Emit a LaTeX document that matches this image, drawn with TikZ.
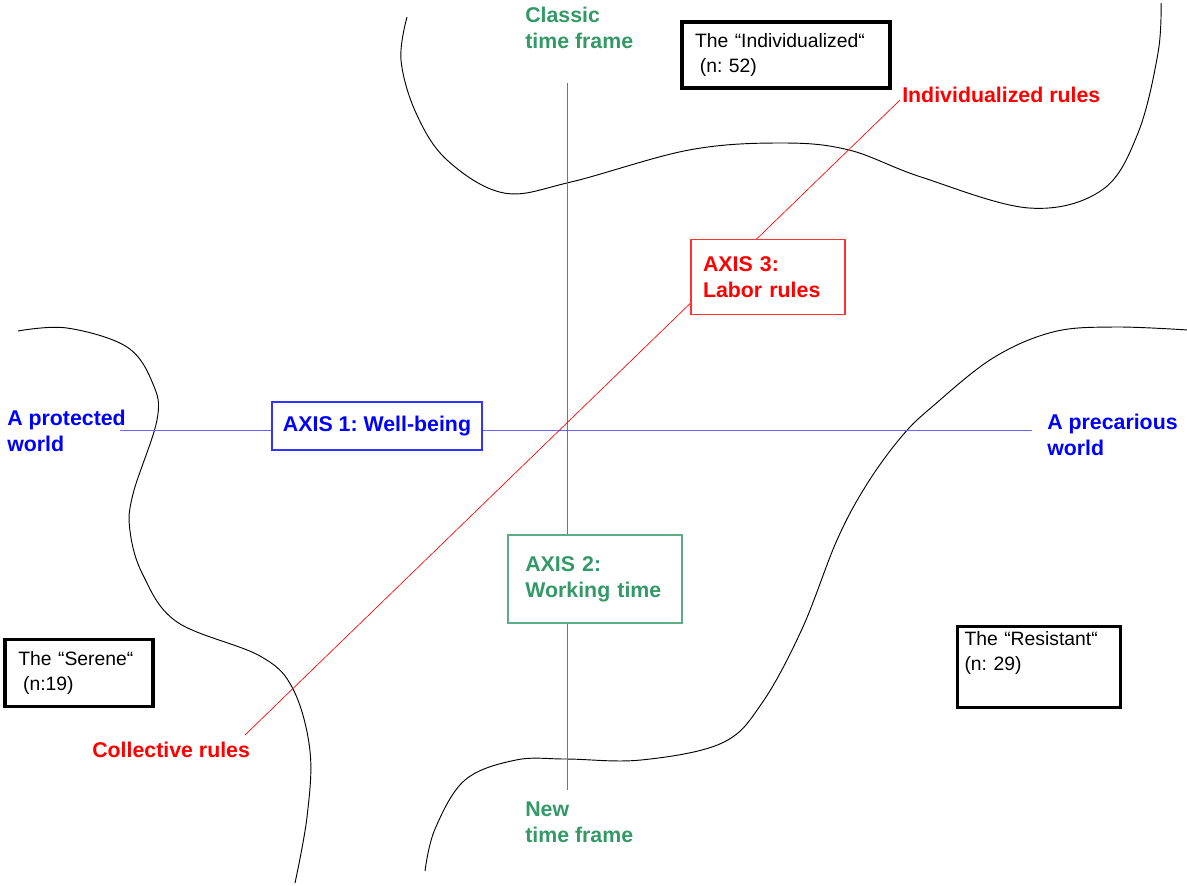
\documentclass[tikz,border=0pt]{standalone}
\usepackage{fontspec}
\setmainfont{Liberation Sans}
\usepackage{tikz}
\frenchspacing

\definecolor{axisblue}{RGB}{0,0,255}
\definecolor{axisgreen}{RGB}{51,153,102}
\definecolor{axisred}{RGB}{255,0,0}

\tikzset{
  lbl/.style={inner sep=0pt,align=left,anchor=west,font=\fontsize{16}{19.5}\selectfont\bfseries},
  axisbox/.style={draw,fill=white,line width=0.8pt,align=left,font=\fontsize{16}{19.5}\selectfont\bfseries},
  groupbox/.style={draw=black,fill=white,line width=2.4pt,align=left,font=\fontsize{14.5}{18.75}\selectfont},
  worldline/.style={black,line width=0.7pt}
}

\begin{document}
\begin{tikzpicture}[x=0.75pt,y=-0.75pt]
         \useasboundingbox (0,0) rectangle (1187,885) ;
         % the three worlds
         \draw[worldline] plot[smooth,tension=0.6] coordinates {(407,17) (401,60) (416,113) (447,160) (504,193) (571,182) (689,150) (782,143) (849,150) (921,177) (1029,208) (1102,190) (1138,133) (1158,53) (1161,3)} ;
         \draw[worldline] plot[smooth,tension=0.6] coordinates {(18,331) (67,328) (127,347) (153,384) (157,420) (133,494) (130,531) (143,575) (177,622) (260,656) (293,689) (310,751) (307,817) (295,883)} ;
         \draw[worldline] plot[smooth,tension=0.6] coordinates {(1188,330) (1114,327) (1053,332) (993,358) (933,406) (902,436) (867,484) (837,540) (802,629) (762,703) (722,743) (641,760) (566,759) (516,760) (465,780) (435,829) (425,871)} ;
         % axis ends
         \coordinate (wleft) at (120,430) ;
         \coordinate (wright) at (1032,430) ;
         \coordinate (tclassic) at (567,83) ;
         \coordinate (tnew) at (567,790) ;
         \coordinate (rcoll) at (245,735) ;
         \coordinate (rindiv) at (900,100) ;
         \draw[axisblue!60,line width=0.6pt] (wleft) -- (wright) ;
         \draw[axisgreen,line width=0.6pt] (tclassic) -- (tnew) ;
         \draw[axisred,line width=0.5pt] (rcoll) -- (rindiv) ;
         % axis boxes
         \node[axisbox,draw=axisblue!80,text=axisblue,minimum width=157.5pt,minimum height=36pt] (axone) at (377,426) {AXIS 1: Well-being} ;
         \node[axisbox,draw=axisgreen!80,text=axisgreen,inner xsep=13pt,text width=104.5pt,minimum height=66pt] (axtwo) at (595,579) {AXIS 2:\\Working~time} ;
         \node[axisbox,draw=axisred!80,text=axisred,inner xsep=9pt,text width=97.5pt,minimum height=56.25pt] (axthree) at (768,277) {AXIS 3:\\Labor rules} ;
         % axis ends labels
         \node[lbl,text=axisgreen] (classic) at (525,28) {Classic\\time frame} ;
         \node[lbl,text=axisgreen] (new) at (525,822) {New\\time frame} ;
         \node[lbl,text=axisblue] (protected) at (7,431) {A protected\\world} ;
         \node[lbl,text=axisblue] (precarious) at (1047,435) {A precarious\\world} ;
         \node[lbl,text=axisred] (indiv) at (902,95) {Individualized rules} ;
         \node[lbl,text=axisred] (coll) at (92,750) {Collective rules} ;
         % groups
         \node[groupbox,inner xsep=9.75pt,text width=136.5pt,minimum height=49.5pt] (individualized) at (786,55) {The “Individualized“\\\hspace*{.25em}(n: 52)} ;
         \node[groupbox,inner xsep=10pt,text width=91pt,minimum height=50.25pt] (serene) at (79,673) {The “Serene“\\\hspace*{.25em}(n:19)} ;
         \node[groupbox,inner xsep=5.25pt,text width=111.75pt,minimum height=55.5pt] (resistant) at (1039,667) {The “Resistant“\\(n: 29)\\\strut} ;
\end{tikzpicture}
\end{document}
